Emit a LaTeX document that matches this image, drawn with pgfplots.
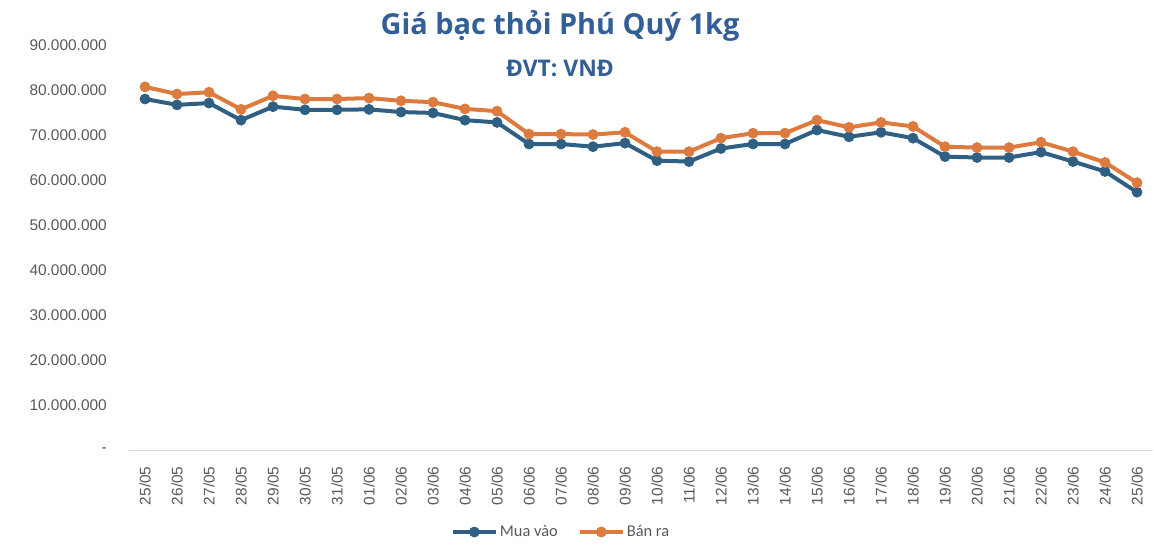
\documentclass[border=0pt]{standalone}
\usepackage{pgfplots}
\usepackage{pgfplotstable}
\pgfplotsset{compat=1.18}
\usepackage{fontspec}
\setmainfont{Liberation Sans}
\newfontfamily\carlito{Carlito}
\newfontfamily\opensans{Open Sans}
\definecolor{muablue}{HTML}{2F6083}
\definecolor{banorange}{HTML}{DD7A3D}
\definecolor{titleblue}{HTML}{335F97}
\definecolor{lblgray}{HTML}{595959}
\definecolor{axgray}{HTML}{D9D9D9}

\pgfplotstableread{
x mua ban
0 78000000 80700000
1 76700000 79100000
2 77100000 79500000
3 73300000 75700000
4 76300000 78700000
5 75600000 78000000
6 75600000 78000000
7 75700000 78200000
8 75100000 77600000
9 74900000 77300000
10 73300000 75800000
11 72800000 75300000
12 68000000 70200000
13 68000000 70200000
14 67400000 70100000
15 68200000 70600000
16 64300000 66300000
17 64100000 66300000
18 67000000 69300000
19 68000000 70400000
20 68000000 70400000
21 71100000 73300000
22 69600000 71700000
23 70600000 72800000
24 69300000 71900000
25 65200000 67400000
26 65000000 67200000
27 65000000 67200000
28 66200000 68400000
29 64100000 66300000
30 61900000 63900000
31 57300000 59400000
}\datatable

\begin{document}
\begin{tikzpicture}
\useasboundingbox (0,0) rectangle (1154bp,554bp);
\node[anchor=base, font=\opensans\bfseries\fontsize{29}{34}\selectfont, text=titleblue] at (560bp,519bp) {Giá bạc thỏi Phú Quý 1kg};
\node[anchor=base, font=\opensans\bfseries\fontsize{23}{27}\selectfont, text=titleblue] at (560bp,477bp) {ĐVT: VNĐ};
\begin{axis}[
  at={(129bp,104bp)}, anchor=south west,
  scale only axis, width=1024bp, height=405bp,
  xmin=-0.5, xmax=31.5, ymin=0, ymax=90000000,
  axis lines*=left,
  y axis line style={draw=none},
  x axis line style={axgray, line width=1bp},
  ytick={0,10000000,20000000,30000000,40000000,50000000,60000000,70000000,80000000,90000000},
  yticklabels={-\hspace{5bp},10.000.000,20.000.000,30.000.000,40.000.000,50.000.000,60.000.000,70.000.000,80.000.000,90.000.000},
  scaled y ticks=false,
  ytick style={draw=none},
  yticklabel style={anchor=east, inner sep=0pt, xshift=-22bp, font=\fontsize{15.5}{18}\selectfont, text=lblgray},
  xtick={0,...,31},
  xticklabels={25/05,26/05,27/05,28/05,29/05,30/05,31/05,01/06,02/06,03/06,04/06,05/06,06/06,07/06,08/06,09/06,10/06,11/06,12/06,13/06,14/06,15/06,16/06,17/06,18/06,19/06,20/06,21/06,22/06,23/06,24/06,25/06},
  xtick style={draw=none},
  minor xtick={-0.5,0.5,...,31.5},
  minor x tick style={axgray, line width=1bp},
  minor tick length=5bp,
  xtick align=outside,
  xticklabel style={yshift=-12bp, rotate=90, anchor=east, inner sep=0pt, font=\fontsize{15.5}{18}\selectfont, text=lblgray},
  legend columns=2,
  legend style={at={(0.4219,-0.2025)}, anchor=center, draw=none, fill=none,
    font=\carlito\fontsize{16.5}{20}\selectfont, text=lblgray,
    /tikz/every even column/.append style={column sep=18bp}},
  legend image code/.code={\draw[#1,mark repeat=2,mark phase=2] plot coordinates {(0bp,0bp) (21.5bp,0bp) (43bp,0bp)};},
  clip=false,
]
\addplot[muablue, line width=4bp, mark=*, mark size=5bp, mark options={line width=0.8bp}] table[x=x, y=mua] {\datatable};
\addlegendentry{Mua vào}
\addplot[banorange, line width=4bp, mark=*, mark size=5bp, mark options={line width=0.8bp}] table[x=x, y=ban] {\datatable};
\addlegendentry{Bán ra}
\end{axis}
\end{tikzpicture}
\end{document}
